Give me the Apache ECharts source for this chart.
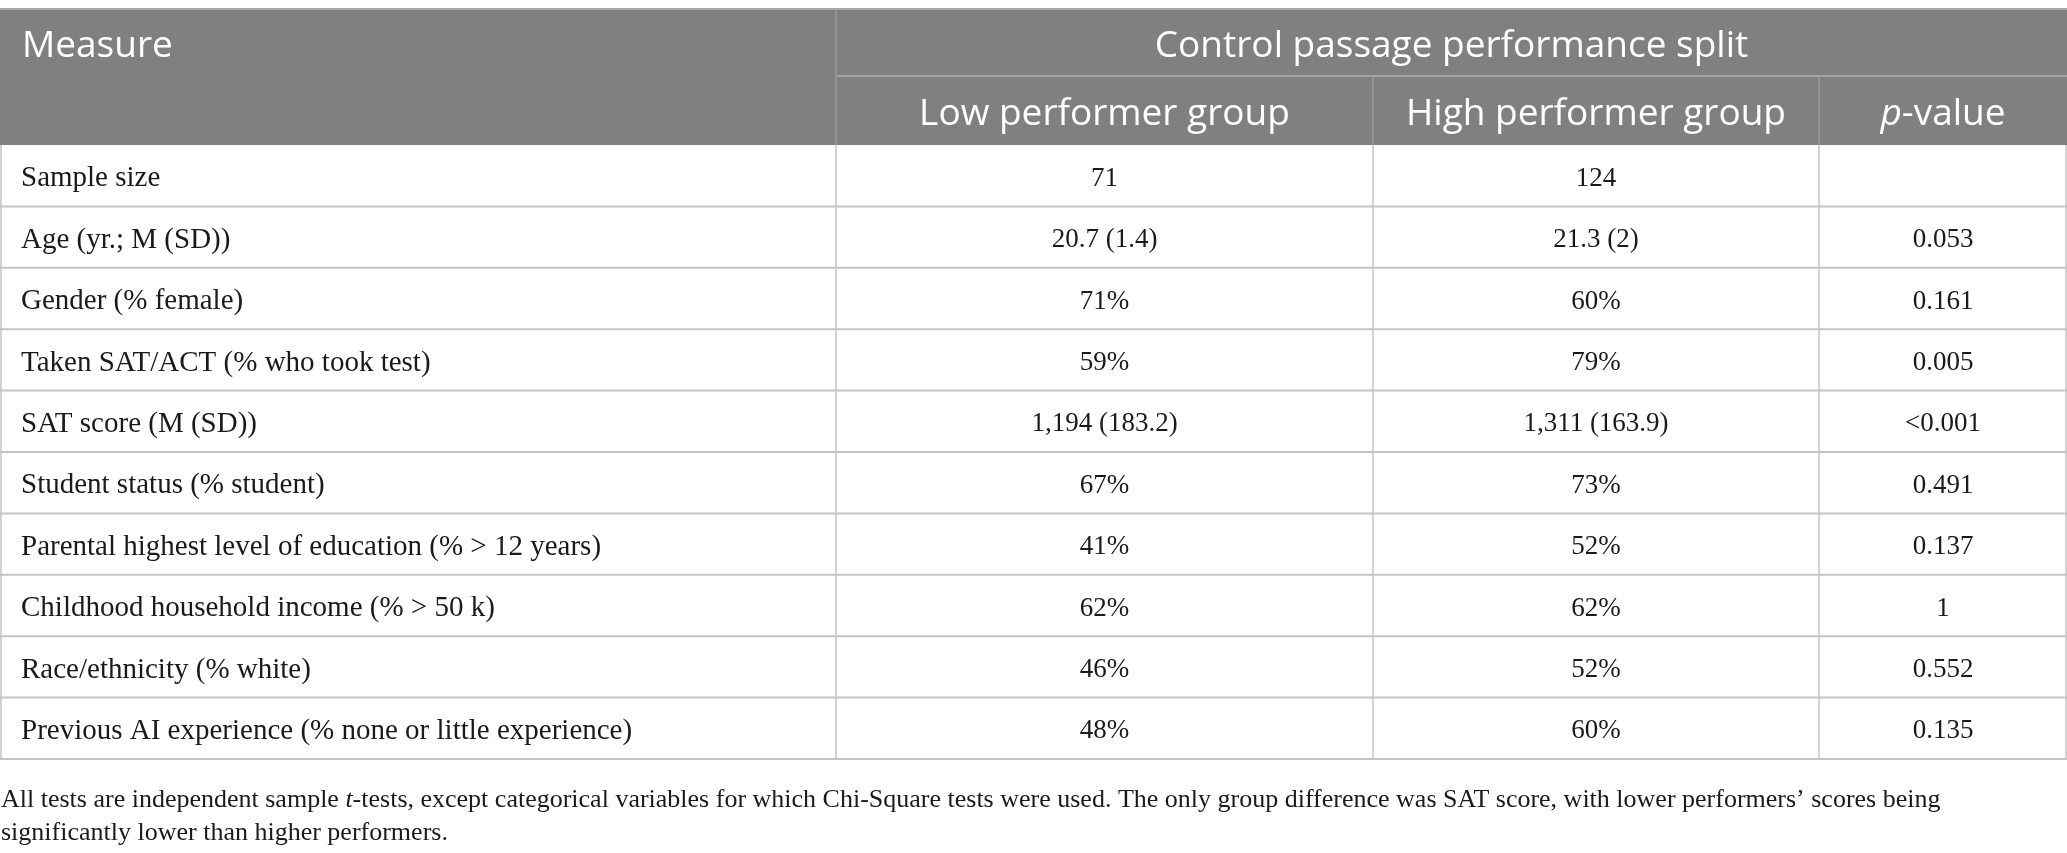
<!DOCTYPE html>
<html>
<head>
<meta charset="utf-8">
<script src="https://cdn.jsdelivr.net/npm/echarts@6/dist/echarts.min.js"></script>
<style>
  html, body { margin: 0; padding: 0; background: #ffffff; }
  #main { width: 2067px; height: 853px; }
</style>
</head>
<body>
<div id="main"></div>
<script>
// table content
var groupTitle = "Control passage performance split";
var colTitles = ["Low performer group", "High performer group", "{i|p}-value"];
var measures = [
  "Sample size",
  "Age (yr.; M (SD))",
  "Gender (% female)",
  "Taken SAT/ACT (% who took test)",
  "SAT score (M (SD))",
  "Student status (% student)",
  "Parental highest level of education (% > 12 years)",
  "Childhood household income (% > 50 k)",
  "Race/ethnicity (% white)",
  "Previous AI experience (% none or little experience)"
];
var lowGroup = ["71", "20.7 (1.4)", "71%", "59%", "1,194 (183.2)", "67%", "41%", "62%", "46%", "48%"];
var highGroup = ["124", "21.3 (2)", "60%", "79%", "1,311 (163.9)", "73%", "52%", "62%", "52%", "60%"];
var pValues = ["", "0.053", "0.161", "0.005", "<0.001", "0.491", "0.137", "1", "0.552", "0.135"];
var footnote = [
  "All tests are independent sample {i|t}-tests, except categorical variables for which Chi-Square tests were used. The only group difference was SAT score, with lower performers\u2019 scores being",
  "significantly lower than higher performers."
];

// layout
var colX = [0, 836, 1373, 1819, 2067];
var top0 = 9;
var head1 = 67;
var head2 = 69;
var rowH = 61.4;
var headFill = "#808080";
var lineColor = "#c4c4c4";
var sansFont = "'Open Sans', 'Noto Sans', sans-serif";
var serifFont = "'Liberation Serif', 'DejaVu Serif', serif";
var headSize = 37;
var labelSize = 29;
var numSize = 27;
var noteSize = 26;

var chart = echarts.init(document.getElementById('main'));
var els = [];
var headBottom = top0 + head1 + head2;
var tableBottom = headBottom + rowH * measures.length;

// header background
els.push({ type: 'rect', shape: { x: colX[0], y: top0, width: colX[4] - colX[0], height: head1 + head2 }, style: { fill: headFill } });

// header texts
els.push({ type: 'text', style: { text: "Measure", x: 22, y: top0 + head1 / 2 + 4, fill: '#ffffff', fontSize: headSize, fontFamily: sansFont, textAlign: 'left', textVerticalAlign: 'middle' } });
els.push({ type: 'text', style: { text: groupTitle, x: (colX[1] + colX[4]) / 2, y: top0 + head1 / 2 + 4, fill: '#ffffff', fontSize: headSize, fontFamily: sansFont, textAlign: 'center', textVerticalAlign: 'middle' } });
for (var c = 0; c < colTitles.length; c++) {
  els.push({
    type: 'text',
    style: {
      text: colTitles[c], x: (colX[c + 1] + colX[c + 2]) / 2, y: top0 + head1 + head2 / 2 + 4,
      fill: '#ffffff', fontSize: headSize, fontFamily: sansFont, textAlign: 'center', textVerticalAlign: 'middle',
      rich: { i: { fontStyle: 'italic', fill: '#ffffff', fontSize: headSize, fontFamily: sansFont } }
    }
  });
}

// header lines
els.push({ type: 'line', shape: { x1: colX[1], y1: top0 + head1, x2: colX[4], y2: top0 + head1 }, style: { stroke: '#a3a3a3', lineWidth: 2 } });
els.push({ type: 'line', shape: { x1: colX[1], y1: top0, x2: colX[1], y2: headBottom }, style: { stroke: '#9a9a9a', lineWidth: 1.5 } });
for (var c = 2; c < 4; c++) {
  els.push({ type: 'line', shape: { x1: colX[c], y1: top0 + head1, x2: colX[c], y2: headBottom }, style: { stroke: '#9a9a9a', lineWidth: 1.5 } });
}
els.push({ type: 'line', shape: { x1: 0, y1: top0, x2: colX[4], y2: top0 }, style: { stroke: '#a8a8a8', lineWidth: 2 } });

// body rows
for (var r = 0; r < measures.length; r++) {
  var yc = headBottom + rowH * r + rowH / 2 + 3;
  var cells = [measures[r], lowGroup[r], highGroup[r], pValues[r]];
  for (var c = 0; c < cells.length; c++) {
    els.push({
      type: 'text',
      style: {
        text: cells[c], x: c == 0 ? 21 : (colX[c] + colX[c + 1]) / 2, y: yc,
        fill: '#1a1a1a', fontSize: c == 0 ? labelSize : numSize, fontFamily: serifFont,
        textAlign: c == 0 ? 'left' : 'center', textVerticalAlign: 'middle'
      }
    });
  }
  var yl = headBottom + rowH * (r + 1);
  els.push({ type: 'line', shape: { x1: 0, y1: yl, x2: colX[4], y2: yl }, style: { stroke: lineColor, lineWidth: 2 } });
}

// vertical lines in body
for (var c = 0; c < colX.length; c++) {
  var xl = c == 0 ? 1 : (c == colX.length - 1 ? colX[c] - 1 : colX[c]);
  els.push({ type: 'line', shape: { x1: xl, y1: headBottom, x2: xl, y2: tableBottom }, style: { stroke: lineColor, lineWidth: 1.5 } });
}

// footnote
for (var f = 0; f < footnote.length; f++) {
  els.push({
    type: 'text',
    style: {
      text: footnote[f], x: 1, y: tableBottom + 41 + f * 33,
      fill: '#1a1a1a', fontSize: noteSize, fontFamily: serifFont, textAlign: 'left', textVerticalAlign: 'middle',
      rich: { i: { fontStyle: 'italic', fill: '#1a1a1a', fontSize: noteSize, fontFamily: serifFont } }
    }
  });
}

chart.setOption({
  animation: false,
  graphic: { elements: els }
});
</script>
</body>
</html>
